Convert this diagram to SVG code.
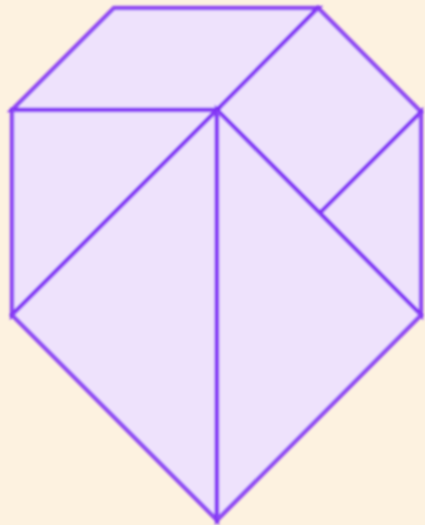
<svg xmlns="http://www.w3.org/2000/svg" width="425" height="525" viewBox="0 0 425 525">
<defs>
<filter id="soft" x="-5%" y="-5%" width="110%" height="110%"><feGaussianBlur stdDeviation="1.2"/></filter>
</defs>
<style>
.p{fill:#eee2fc;stroke:#7f2ff5;stroke-width:4.5;stroke-linejoin:miter;stroke-opacity:0.85}
</style>
<rect width="425" height="525" fill="#fdf2e0"/>
<g filter="url(#soft)">
<g id="parallelogram"><polygon class="p" points="114,8 318,8 217,110 12,110"/></g>
<g id="square"><polygon class="p" points="217,110 318,8 421,112 320,213"/></g>
<g id="small-triangle"><polygon class="p" points="320,213 421,112 421,315"/></g>
<g id="left-upper-triangle"><polygon class="p" points="12,110 217,110 12,315"/></g>
<g id="left-lower-triangle"><polygon class="p" points="217,110 12,315 217,520"/></g>
<g id="right-triangle"><polygon class="p" points="217,110 421,315 217,520"/></g>
</g>
</svg>
